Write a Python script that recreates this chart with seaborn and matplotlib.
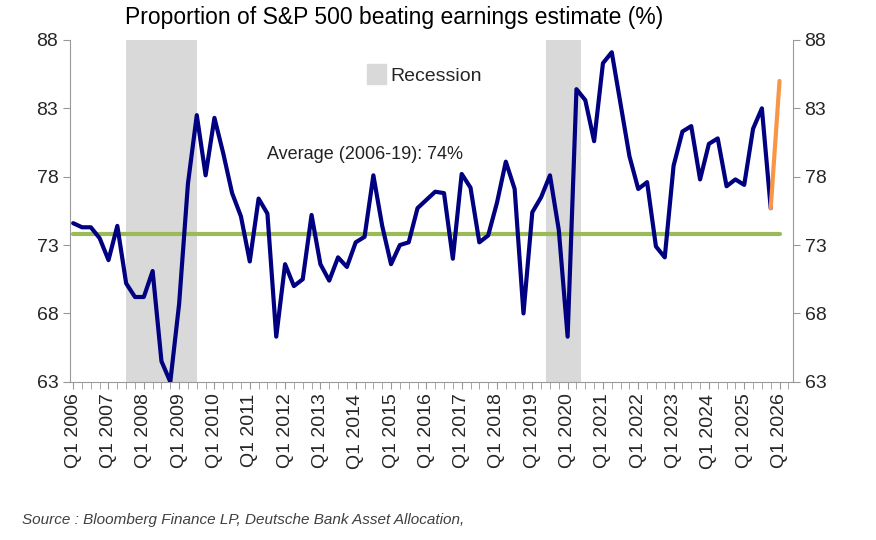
import matplotlib
matplotlib.use("Agg")
import matplotlib.pyplot as plt
import seaborn as sns
import numpy as np
import pandas as pd
from matplotlib.patches import Patch

sns.set_style("white")
plt.rcParams['font.family'] = ['Liberation Sans', 'DejaVu Sans']

# quarterly values, Q1 2006 .. Q4 2025
beat = [74.6, 74.3, 74.3, 73.5, 71.9, 74.4, 70.2, 69.2, 69.2, 71.1,
        64.5, 63.0, 68.7, 77.5, 82.5, 78.1, 82.3, 79.7, 76.8, 75.1,
        71.8, 76.4, 75.3, 66.3, 71.6, 70.0, 70.5, 75.2, 71.6, 70.4,
        72.1, 71.4, 73.2, 73.6, 78.1, 74.4, 71.6, 73.0, 73.2, 75.7,
        76.3, 76.9, 76.8, 72.0, 78.2, 77.2, 73.2, 73.7, 76.1, 79.1,
        77.1, 68.0, 75.4, 76.5, 78.1, 74.1, 66.3, 84.4, 83.6, 80.6,
        86.3, 87.1, 83.3, 79.5, 77.1, 77.6, 72.9, 72.1, 78.8, 81.3,
        81.7, 77.8, 80.4, 80.8, 77.3, 77.8, 77.4, 81.5, 83.0, 75.7]
latest = 85.0  # Q1 2026
average = 73.8
recessions = [(6.0, 14.0), (53.5, 57.5)]
years = list(range(2006, 2027))

df = pd.DataFrame({"q": np.arange(len(beat)), "beat": beat})
df_new = pd.DataFrame({"q": [len(beat) - 1, len(beat)], "beat": [beat[-1], latest]})

fig = plt.figure(figsize=(8.76, 5.4), dpi=100)
ax = fig.add_axes([0.080, 0.293, 0.825, 0.633])

for a, b in recessions:
    ax.axvspan(a, b, color="#d9d9d9", lw=0, zorder=0)
ax.plot([0, len(beat)], [average, average], color="#9bbb59", lw=3, zorder=2)
sns.lineplot(data=df, x="q", y="beat", ax=ax, color="#000080", lw=3, zorder=3)
sns.lineplot(data=df_new, x="q", y="beat", ax=ax, color="#f79646", lw=3, zorder=3)

ax.set_xlim(-0.35, 81.5)
ax.set_ylim(63, 88)
ax.set_yticks(range(63, 89, 5))
ax.set_xticks([4 * i for i in range(len(years))])
ax.set_xticks(range(0, 82), minor=True)
ax.set_xticklabels([f"Q1 {y}" for y in years], rotation=90, fontsize=14)
ax.tick_params(axis="y", labelsize=14, length=5, color="#999999",
               left=True, right=True, labelright=True)
ax.tick_params(axis="x", which="both", length=5, color="#999999", bottom=True)
ax.set_xlabel("")
ax.set_ylabel("")
ax.spines["top"].set_visible(False)
for s in ["left", "right", "bottom"]:
    ax.spines[s].set_color("#999999")

ax.text(22, 79.3, "Average (2006-19): 74%", fontsize=13, color="#222222")
ax.legend(handles=[Patch(color="#d9d9d9", label="Recession")], loc="upper center",
          bbox_to_anchor=(0.49, 0.98), frameon=False, fontsize=14,
          handlelength=1.0, handleheight=1.2, handletextpad=0.2)
fig.text(0.143, 0.955, "Proportion of S&P 500 beating earnings estimate (%)",
         fontsize=16.5, color="black")
fig.text(0.025, 0.03, "Source : Bloomberg Finance LP, Deutsche Bank Asset Allocation,",
         fontsize=11, style="italic", color="#404040")

fig.savefig("out.png", dpi=100)
